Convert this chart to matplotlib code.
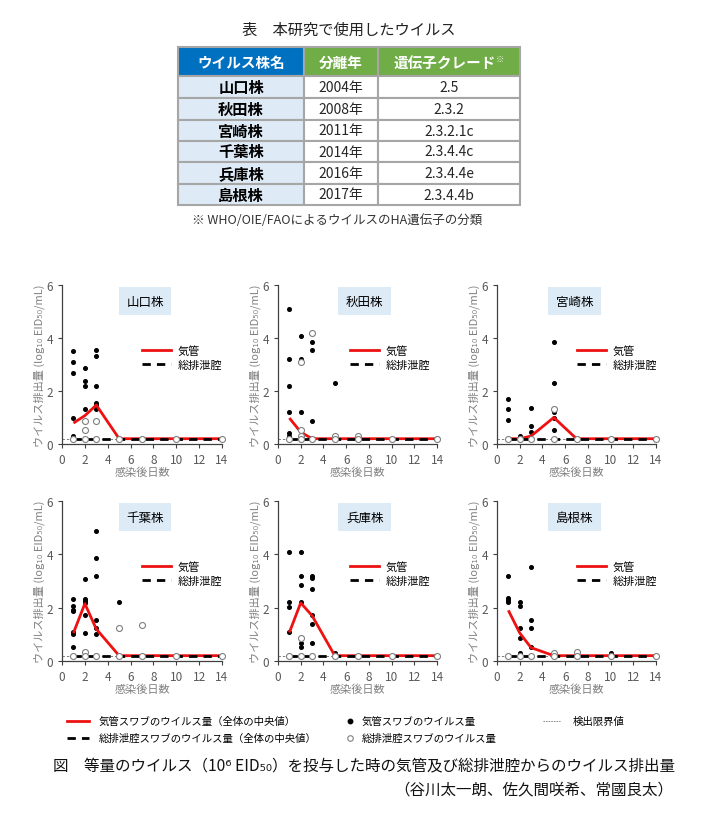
import matplotlib
matplotlib.use("Agg")
import matplotlib.pyplot as plt
from matplotlib.patches import Rectangle
from matplotlib.lines import Line2D

plt.rcParams['font.family'] = ['Noto Sans CJK JP', 'DejaVu Sans']

# ---------------- table data ----------------
table_title = "表　本研究で使用したウイルス"
table_header = ["ウイルス株名", "分離年", "遺伝子クレード"]
strains = ["山口株", "秋田株", "宮崎株", "千葉株", "兵庫株", "島根株"]
years = ["2004年", "2008年", "2011年", "2014年", "2016年", "2017年"]
clades = ["2.5", "2.3.2", "2.3.2.1c", "2.3.4.4c", "2.3.4.4e", "2.3.4.4b"]
table_note = "※ WHO/OIE/FAOによるウイルスのHA遺伝子の分類"

# ---------------- chart data ----------------
days = [1, 2, 3, 5, 7, 10, 14]
detect_limit = 0.2

tr_yamaguchi = {1: [3.52, 3.08, 2.69, 1.0, 0.29], 2: [2.85, 2.39, 2.19, 1.32],
                3: [3.54, 3.33, 2.19, 1.53, 1.47, 1.32]}
cl_yamaguchi = {1: [0.2], 2: [0.88, 0.53, 0.2], 3: [0.88, 0.2], 5: [0.2], 7: [0.2], 10: [0.2], 14: [0.2]}
med_tr_yamaguchi = [0.79, 1.07, 1.47, 0.2, 0.2, 0.2, 0.2]
med_cl_yamaguchi = [0.2, 0.2, 0.2, 0.2, 0.2, 0.2, 0.2]

tr_akita = {1: [5.08, 3.19, 2.19, 1.19, 0.4, 0.29], 2: [4.07, 3.19, 1.19],
            3: [3.86, 3.53, 0.87], 5: [2.32]}
cl_akita = {1: [0.2], 2: [3.08, 0.53, 0.3, 0.2], 3: [4.18, 0.2], 5: [0.3, 0.2], 7: [0.3, 0.2], 10: [0.2], 14: [0.2]}
med_tr_akita = [0.98, 0.45, 0.2, 0.2, 0.2, 0.2, 0.2]
med_cl_akita = [0.2, 0.2, 0.2, 0.2, 0.2, 0.2, 0.2]

tr_miyazaki = {1: [1.68, 1.32, 0.92], 2: [0.29], 3: [1.36, 0.69, 0.44],
               5: [3.86, 2.32, 1.19, 1.0, 0.53]}
cl_miyazaki = {1: [0.2], 2: [0.2], 3: [0.2], 5: [1.32, 0.2], 7: [0.2], 10: [0.2], 14: [0.2]}
med_tr_miyazaki = [0.2, 0.2, 0.3, 1.0, 0.2, 0.2, 0.2]
med_cl_miyazaki = [0.2, 0.2, 0.2, 0.2, 0.2, 0.2, 0.2]

tr_chiba = {1: [2.33, 2.08, 1.92, 1.86, 1.07, 1.0, 0.54], 2: [3.07, 2.33, 2.26, 2.16, 1.71, 1.05],
            3: [4.87, 3.86, 3.2, 1.54, 1.22, 1.02], 5: [2.2]}
cl_chiba = {1: [0.2], 2: [0.35, 0.2], 3: [0.2], 5: [1.22, 0.2], 7: [1.34, 0.2], 10: [0.2], 14: [0.2]}
med_tr_chiba = [1.05, 2.15, 1.2, 0.2, 0.2, 0.2, 0.2]
med_cl_chiba = [0.2, 0.2, 0.2, 0.2, 0.2, 0.2, 0.2]

tr_hyogo = {1: [4.08, 2.2, 2.02, 1.07], 2: [4.08, 3.2, 2.86, 2.2, 0.69, 0.53],
            3: [3.2, 3.12, 2.71, 1.72, 1.38, 0.69], 5: [0.31]}
cl_hyogo = {1: [0.2], 2: [0.88, 0.2], 3: [0.2], 5: [0.2], 7: [0.2], 10: [0.2], 14: [0.2]}
med_tr_hyogo = [1.07, 2.18, 1.7, 0.2, 0.2, 0.2, 0.2]
med_cl_hyogo = [0.2, 0.2, 0.2, 0.2, 0.2, 0.2, 0.2]

tr_shimane = {1: [3.2, 2.36, 2.28, 2.2], 2: [2.2, 2.08, 1.22, 0.85, 0.31],
              3: [3.54, 1.54, 1.22, 0.54], 10: [0.31]}
cl_shimane = {1: [0.2], 2: [0.2], 3: [0.2], 5: [0.3, 0.2], 7: [0.35, 0.2], 10: [0.2], 14: [0.2]}
med_tr_shimane = [1.9, 1.05, 0.5, 0.2, 0.2, 0.2, 0.2]
med_cl_shimane = [0.2, 0.2, 0.2, 0.2, 0.2, 0.2, 0.2]

panels = [
    ("山口株", tr_yamaguchi, cl_yamaguchi, med_tr_yamaguchi, med_cl_yamaguchi),
    ("秋田株", tr_akita, cl_akita, med_tr_akita, med_cl_akita),
    ("宮崎株", tr_miyazaki, cl_miyazaki, med_tr_miyazaki, med_cl_miyazaki),
    ("千葉株", tr_chiba, cl_chiba, med_tr_chiba, med_cl_chiba),
    ("兵庫株", tr_hyogo, cl_hyogo, med_tr_hyogo, med_cl_hyogo),
    ("島根株", tr_shimane, cl_shimane, med_tr_shimane, med_cl_shimane),
]

W, H = 705, 820
fig = plt.figure(figsize=(W / 100, H / 100), dpi=100)

# overlay axes in pixel coordinates for table / legend / caption
ov = fig.add_axes([0, 0, 1, 1])
ov.set_xlim(0, W)
ov.set_ylim(H, 0)
ov.axis('off')

# ---- table ----
col_x = [178, 304, 378, 520]
row_y = [48, 77, 99, 121, 142, 163, 185, 206]
border = '#A6A6A6'
head_colors = ['#0070C0', '#70AD47', '#70AD47']
for c in range(3):
    ov.add_patch(Rectangle((col_x[c], row_y[0]), col_x[c + 1] - col_x[c], row_y[1] - row_y[0],
                           facecolor=head_colors[c], edgecolor=border, lw=1.5))
    cx = (col_x[c] + col_x[c + 1]) / 2
    cy = (row_y[0] + row_y[1]) / 2
    if c == 2:
        t = ov.text(cx - 4, cy, table_header[c], color='white', fontsize=10.5, fontweight='bold',
                    ha='center', va='center')
        ov.annotate("※", xy=(1, 1), xycoords=t, xytext=(-0.5, 0), textcoords='offset points',
                    color='white', fontsize=6, fontweight='bold', ha='left', va='top')
    else:
        ov.text(cx, cy, table_header[c], color='white', fontsize=10.5, fontweight='bold',
                ha='center', va='center')
for r in range(len(strains)):
    y0, y1 = row_y[r + 1], row_y[r + 2]
    vals = [strains[r], years[r], clades[r]]
    for c in range(3):
        fc = '#DEEAF6' if c == 0 else 'white'
        ov.add_patch(Rectangle((col_x[c], y0), col_x[c + 1] - col_x[c], y1 - y0,
                               facecolor=fc, edgecolor=border, lw=1.5))
        cx = (col_x[c] + col_x[c + 1]) / 2
        if c == 0:
            ov.text(cx, (y0 + y1) / 2, vals[c], fontsize=11, fontweight='bold', color='black',
                    ha='center', va='center')
        else:
            ov.text(cx, (y0 + y1) / 2, vals[c], fontsize=10, color='#262626',
                    ha='center', va='center')
ov.text(349, 30, table_title, fontsize=11, ha='center', va='center', color='#222222')
ov.text(192, 220, table_note, fontsize=9, ha='left', va='center', color='#333333')

# ---- subplots ----
lefts = [62, 278, 497]
widths = [160, 159, 159]
tops = [286, 502]
heights = [159, 160]
box_cx = [0.519, 0.545, 0.487]
leg_x = [0.47, 0.425, 0.475]
tick_col = '#595959'
label_col = '#808080'

for i, (name, tr, cl, mtr, mcl) in enumerate(panels):
    r, c = divmod(i, 3)
    l, t = lefts[c], tops[r]
    ax = fig.add_axes([l / W, 1 - (t + heights[r]) / H, widths[c] / W, heights[r] / H])
    ax.set_xlim(0, 14)
    ax.set_ylim(0, 6)
    ax.set_xticks(range(0, 15, 2))
    ax.set_yticks([0, 2, 4, 6])
    for s in ['top', 'right']:
        ax.spines[s].set_visible(False)
    for s in ['left', 'bottom']:
        ax.spines[s].set_color('#404040')
        ax.spines[s].set_linewidth(0.9)
    ax.tick_params(labelsize=8.5, colors='#404040', labelcolor=tick_col, length=3, width=0.8)
    ax.set_xlabel("感染後日数", fontsize=8, color=label_col, labelpad=0)
    ax.set_ylabel("ウイルス排出量 (log₁₀ EID₅₀/mL)", fontsize=8, color=label_col, labelpad=1)

    # detection limit
    ax.plot([0, 14], [detect_limit, detect_limit], color='#7f7f7f', lw=0.7,
            dashes=(2.5, 2), zorder=1)
    # trachea points
    for d, vs in tr.items():
        ax.plot([d] * len(vs), vs, 'o', color='black', ms=2.6, zorder=2, clip_on=False)
    # medians
    ax.plot(days, mtr, color='#EE1111', lw=2.0, zorder=3, solid_capstyle='butt')
    ax.plot(days, mcl, color='black', lw=2.0, dashes=(3, 2.2), zorder=4)
    # cloaca points
    for d, vs in cl.items():
        ax.plot([d] * len(vs), vs, 'o', mfc='white', mec='#7f7f7f', mew=0.8, ms=4.3, zorder=5,
                clip_on=False)

    # strain title box
    ax.text(box_cx[c], 0.897, name, transform=ax.transAxes, ha='center', va='center',
            fontsize=9, color='black',
            bbox=dict(boxstyle='square,pad=0.6', facecolor='#DDEBF7', edgecolor='none'))
    # internal legend
    h1 = Line2D([], [], color='#EE1111', lw=2.0)
    h2 = Line2D([], [], color='black', lw=2.0, dashes=(3, 2.2))
    ax.legend([h1, h2], ["気管", "総排泄腔"], loc='upper left', bbox_to_anchor=(leg_x[c], 0.65),
              frameon=False, fontsize=8, handlelength=2.6, handletextpad=0.6,
              labelspacing=0.35, borderaxespad=0)

# ---- bottom legend ----
ov.add_line(Line2D([67, 89], [722, 722], color='#EE1111', lw=2.0))
ov.text(99, 722, "気管スワブのウイルス量（全体の中央値）", fontsize=7.5, va='center', ha='left')
ov.add_line(Line2D([67, 89], [739, 739], color='black', lw=2.0, dashes=(3, 2.2)))
ov.text(99, 739, "総排泄腔スワブのウイルス量（全体の中央値）", fontsize=7.5, va='center', ha='left')
ov.add_line(Line2D([350], [722], marker='o', color='black', ms=3.2, ls='none'))
ov.text(362, 722, "気管スワブのウイルス量", fontsize=7.5, va='center', ha='left')
ov.add_line(Line2D([350], [739], marker='o', mfc='white', mec='#7f7f7f', mew=0.8, ms=4,
                   ls='none'))
ov.text(362, 739, "総排泄腔スワブのウイルス量", fontsize=7.5, va='center', ha='left')
ov.add_line(Line2D([543, 560], [722, 722], color='#7f7f7f', lw=0.7, dashes=(1.5, 1.2)))
ov.text(573, 722, "検出限界値", fontsize=7.5, va='center', ha='left')

# ---- caption ----
ov.text(53, 766, "図　等量のウイルス（10⁶ EID₅₀）を投与した時の気管及び総排泄腔からのウイルス排出量",
        fontsize=11.2, va='center', ha='left', color='#111111')
ov.text(673, 791, "（谷川太一朗、佐久間咲希、常國良太）", fontsize=11.2, va='center', ha='right',
        color='#111111')

fig.savefig("out.png", dpi=100)
